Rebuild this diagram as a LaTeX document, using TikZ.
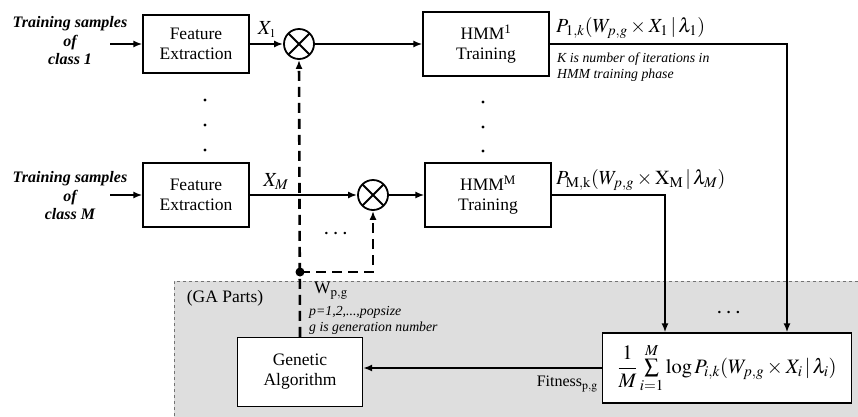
\documentclass[tikz,border=0pt]{standalone}
\usepackage{amsmath}
\usepackage{mathptmx}
\usepackage[no-math]{fontspec}
\setmainfont{Liberation Serif}
\usetikzlibrary{arrows.meta,positioning}

\begin{document}
\begin{tikzpicture}[x=1pt,y=-1pt,>={Latex[length=9pt,width=7pt]},font=\fontsize{17.5}{20}\selectfont,
 box/.style={draw,line width=1.2pt,fill=white,align=center,inner sep=0pt,minimum width=106pt,minimum height=58pt},
 hmmbox/.style={box,minimum width=126pt,minimum height=64pt},
 mult/.style={draw,line width=1.8pt,circle,minimum size=30pt,inner sep=0pt,
  path picture={\draw[line width=1.8pt] (path picture bounding box.south west) -- (path picture bounding box.north east)
   (path picture bounding box.north west) -- (path picture bounding box.south east);}},
 line/.style={->,line width=2.2pt},
 ctrl/.style={line width=2.6pt,dash pattern=on 10pt off 6pt},
 input/.style={font=\fontsize{16}{18.5}\selectfont\bfseries\itshape,align=center},
 note/.style={font=\fontsize{13.8}{16}\selectfont\itshape,align=left,inner sep=0pt,anchor=north west},
 lbl/.style={font=\fontsize{20}{22}\selectfont,inner sep=0pt}]
\useasboundingbox (0,0) rectangle (858,416);
% GA part of the system
\fill[black!13] (174,281) rectangle (870,430);
\draw[dashed,line width=1pt,black!55] (870,281) -- (174,281) -- (174,430);
\node (gapart) at (225,298) {(GA Parts)};

% class 1 branch
\node[input] (in1) at (70,41) {Training samples\\of\\class 1};
\node[box] (fe1) at (196,44) {Feature\\Extraction};
\node[mult] (mul1) at (299,44) {};
\node[hmmbox] (hmm1) at (486,44) {HMM$^{\text{1}}$\\Training};
\coordinate (src1) at (110,44);

% class M branch
\node[input] (inM) at (70,196) {Training samples\\of\\class M};
\node[box,minimum height=64pt] (feM) at (196,195) {Feature\\Extraction};
\node[mult] (mulM) at (373,195) {};
\node[hmmbox] (hmmM) at (488,195) {HMM$^{\text{M}}$\\Training};
\coordinate (srcM) at (110,195);

% GA blocks
\node[box,minimum width=125pt,minimum height=69pt] (ga) at (300,372) {Genetic\\Algorithm};
\node[box,minimum width=249pt,minimum height=70pt,font=\fontsize{20.5}{22}\selectfont] (fit) at (727,368)
 {$\dfrac{1}{M}\sum\limits_{i=1}^{M}\log P_{i,k}(W_{p,g}\times X_i\,|\,\lambda_i)$};

% vertical dots
\foreach \y in {100,125,150} \fill (205,\y) circle (1.6pt);
\foreach \y in {102,127,151} \fill (483,\y) circle (1.6pt);
\node[font=\fontsize{24}{24}\selectfont] (dotsM) at (337,234) {$\cdots$};
\node[font=\fontsize{24}{24}\selectfont] (dotsfit) at (730,313) {$\cdots$};

% labels
\node[lbl] (x1) at (267,30) {$X_{\scriptscriptstyle 1}$};
\node[lbl] (xM) at (276,182) {$X_{M}$};
\node[lbl,anchor=south west] (p1) at (556,39) {$P_{1,k}(W_{p,g}\times X_{1}\,|\,\lambda_{1})$};
\node[note] (knote) at (557,53) {K is number of iterations in\\HMM training phase};
\node[lbl,anchor=south west] (pM) at (556,191) {$P_{\mathrm{M,k}}(W_{p,g}\times\mathrm{X}_{\mathrm{M}}\,|\,\lambda_{M})$};
\node[anchor=north west,inner sep=0pt] (wpg) at (314,282) {W$_{\mathrm{p,g}}$};
\node[note] (pnote) at (309,306) {p=1,2,...,popsize\\g is generation number};
\node[anchor=north east,inner sep=0pt,font=\fontsize{16}{18}\selectfont] (fitlbl) at (598,376) {Fitness$_{\mathrm{p,g}}$};

% connectors
\draw[line] (src1) -- (fe1.west);
\draw[line] (fe1.east) -- (mul1.west);
\draw[line] (mul1.east) -- (hmm1.west);
\draw[line] (srcM) -- (feM.west);
\draw[line] (feM.east) -- (mulM.west);
\draw[line] (mulM.east) -- (hmmM.west);
\draw[line] (hmm1.east) -| ([xshift=60pt]fit.north);
\draw[line] (hmmM.east) -| ([xshift=-62pt]fit.north);
\draw[line] (fit.west) -- (fit.west -| ga.east);
\coordinate (tap) at (ga.north |- 0,272);
\draw[ctrl,->] (ga.north) -- (mul1.south);
\draw[ctrl,->] (tap) -| (mulM.south);
\fill (tap) circle (4.5pt);
\end{tikzpicture}
\end{document}
